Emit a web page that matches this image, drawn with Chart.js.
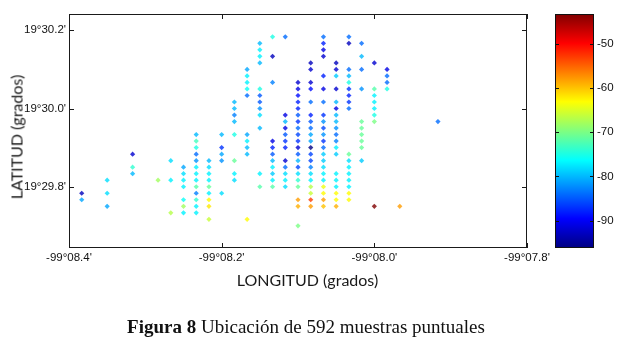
<!DOCTYPE html>
<html>
<head>
<meta charset="utf-8">
<script src="https://cdn.jsdelivr.net/npm/chart.js@4.4.1/dist/chart.umd.min.js"></script>
<style>
  body { margin: 0; background: #fff; }
  #fig { position: relative; width: 618px; height: 337px; overflow: hidden; }
  #fig canvas { position: absolute; top: 0; }
  #mapChart { left: 0; }
  #barChart { left: 540px; }
  .axis-title { position: absolute; font-family: Lato, 'Open Sans', sans-serif; font-size: 16px; font-weight: 400; line-height: 19px; color: #1a1a1a; white-space: nowrap; }
  #xTitle { left: 0; width: 615px; top: 270px; text-align: center; }
  #yTitle { left: 16px; top: 137px; transform: translate(-50%, -50%) rotate(-90deg); }
  #caption { position: absolute; left: 0; width: 612px; top: 317px; text-align: center; font-family: 'Liberation Serif', 'Times New Roman', serif; font-size: 19px; line-height: 19px; color: #111; }
</style>
</head>
<body>
<div id="fig">
  <canvas id="mapChart" width="618" height="337"></canvas>
  <canvas id="barChart" width="78" height="337"></canvas>
  <div class="axis-title" id="xTitle">LONGITUD (grados)</div>
  <div class="axis-title" id="yTitle">LATITUD (grados)</div>
  <div id="caption"><b>Figura 8</b> Ubicación de 592 muestras puntuales</div>
</div>
<script>
// ejes en segundos de arco: longitud respecto a -99°08'00", latitud respecto a 19°29'48"
const lonTicks = [-24, -12, 0, 12];
const latTicks = [0, 12, 24];
const latMin = -9.4;
const latMax = 26.5;

// escala de color (dBm)
const colorTicks = [-90, -80, -70, -60, -50];
const dbmMin = -96.2;
const dbmMax = -43.3;

// una entrada por columna de longitud
const sampleLon = [-23, -21, -19, -17, -16, -15, -14, -13, -12, -11, -10, -9, -8, -7, -6, -5, -4, -3, -2, -1, 0, 1, 2, 5];

const sampleLat = [
  [-1, -2],
  [1, -1, -3],
  [5, 3, 2],
  [1],
  [4, 1, -4],
  [3, 2, 1, 0, -2, -3, -4],
  [8, 7, 6, 5, 4, 3, 2, 1, 0, -1, -2, -3, -4],
  [4, 3, 2, 1, 0, -1, -2, -3, -5],
  [8, 6, 5, 4, -1],
  [13, 12, 11, 10, 8, 4, 2, 1],
  [18, 17, 16, 15, 14, 8, 7, 6, 5, -5],
  [22, 21, 20, 19, 15, 14, 13, 12, 11, 9, 2, 0],
  [23, 20, 16, 7, 6, 5, 4, 3, 2, 1, 0],
  [23, 11, 10, 9, 8, 7, 6, 4, 3, 2, 1, 0],
  [16, 15, 14, 13, 12, 11, 10, 9, 8, 7, 6, 5, 4, 3, 2, 1, 0, -2, -3, -6],
  [19, 18, 16, 15, 13, 11, 10, 9, 8, 7, 6, 5, 4, 3, 2, 1, 0, -1, -2, -3],
  [23, 22, 21, 20, 17, 15, 13, 11, 10, 9, 8, 7, 6, 5, 4, 3, 2, 1, 0, -1, -2, -3],
  [19, 18, 17, 15, 13, 12, 11, 10, 9, 8, 7, 6, 5, 2, 1, 0, -1, -2, -3],
  [23, 22, 18, 17, 16, 15, 14, 13, 12, 5, 4, 3, 2, 1, 0, -1, -2],
  [22, 20, 18, 15, 10, 9, 8, 7, 6, 4],
  [19, 15, 14, 13, 12, 11, 10, -3],
  [18, 17, 16, 15],
  [-3],
  [10]
];

const sampleDbm = [
  [-93, -81],
  [-78, -78, -81],
  [-92, -74, -80],
  [-68],
  [-78, -77, -67],
  [-81, -78, -77, -77, -76, -68, -77],
  [-80, -73, -75, -84, -82, -77, -77, -77, -72, -83, -74, -77, -77],
  [-80, -78, -77, -77, -71, -77, -63, -62, -66],
  [-80, -87, -81, -82, -78],
  [-80, -80, -83, -80, -75, -71, -77, -78],
  [-81, -77, -77, -76, -84, -81, -77, -80, -80, -63],
  [-80, -77, -77, -80, -75, -85, -85, -82, -78, -80, -77, -72],
  [-75, -93, -83, -91, -88, -85, -80, -77, -79, -77, -72],
  [-84, -91, -80, -91, -85, -87, -88, -92, -84, -78, -77, -78],
  [-92, -91, -89, -88, -88, -85, -87, -84, -86, -87, -92, -85, -80, -86, -78, -74, -71, -58, -59, -70],
  [-93, -92, -92, -89, -84, -88, -85, -84, -81, -81, -96, -86, -86, -83, -78, -77, -67, -66, -53, -58],
  [-84, -88, -91, -92, -88, -91, -84, -87, -82, -86, -82, -87, -84, -79, -79, -78, -77, -77, -64, -63, -58, -60],
  [-93, -92, -79, -92, -80, -91, -80, -80, -82, -84, -83, -77, -79, -77, -77, -77, -63, -63, -59],
  [-84, -93, -84, -80, -75, -87, -88, -87, -84, -71, -78, -77, -77, -77, -77, -63, -63],
  [-84, -80, -84, -82, -71, -71, -71, -71, -71, -79],
  [-92, -72, -77, -77, -77, -75, -70, -43.3],
  [-91, -84, -84, -75],
  [-58],
  [-84]
];

const tickFont = { family: "Arial, 'Liberation Sans', sans-serif", size: 11.5 };

// mapa de color tipo "jet" de MATLAB
function jet(t, alpha = 1) {
  const c = v => Math.round(255 * Math.min(1, Math.max(0, v)));
  return `rgba(${c(1.5 - Math.abs(4 * t - 3))}, ${c(1.5 - Math.abs(4 * t - 2))}, ${c(1.5 - Math.abs(4 * t - 1))}, ${alpha})`;
}

function dbmColor(v) {
  return jet((v - dbmMin) / (dbmMax - dbmMin), 0.8);
}

function lonLabel(v) {
  const m = 8 - v / 60;
  return "-99°" + m.toFixed(1).padStart(4, '0') + "'";
}

function latLabel(v) {
  return "19°" + (29.8 + v / 60).toFixed(1) + "'";
}

const points = [];
sampleLon.forEach((lon, i) => {
  sampleLat[i].forEach((lat, j) => {
    points.push({ x: lon, y: lat, dbm: sampleDbm[i][j] });
  });
});

// marco del area y marcas hacia adentro
const boxFrame = {
  id: 'boxFrame',
  afterDraw(chart) {
    const { ctx, chartArea: a, scales } = chart;
    ctx.save();
    ctx.strokeStyle = '#1a1a1a';
    ctx.lineWidth = 1;
    ctx.strokeRect(a.left + 0.5, a.top + 0.5, a.right - a.left - 1, a.bottom - a.top - 1);
    ctx.beginPath();
    scales.x.ticks.forEach(t => {
      const x = Math.round(scales.x.getPixelForValue(t.value)) + 0.5;
      ctx.moveTo(x, a.bottom); ctx.lineTo(x, a.bottom - 5);
      ctx.moveTo(x, a.top); ctx.lineTo(x, a.top + 5);
    });
    scales.y.ticks.forEach(t => {
      const y = Math.round(scales.y.getPixelForValue(t.value)) + 0.5;
      ctx.moveTo(a.left, y); ctx.lineTo(a.left + 5, y);
      ctx.moveTo(a.right, y); ctx.lineTo(a.right - 5, y);
    });
    ctx.stroke();
    ctx.restore();
  }
};

new Chart(document.getElementById('mapChart'), {
  type: 'scatter',
  data: {
    datasets: [{
      data: points,
      pointBackgroundColor: ctx => dbmColor(ctx.raw.dbm),
      pointBorderWidth: 0,
      pointStyle: 'rectRot',
      pointRadius: 2.6,
      pointHoverRadius: 2.6
    }]
  },
  options: {
    responsive: false,
    animation: false,
    events: [],
    layout: { padding: { left: 0, top: 14, right: 91, bottom: 46 } },
    plugins: { legend: { display: false }, tooltip: { enabled: false } },
    scales: {
      x: {
        type: 'linear',
        min: lonTicks[0],
        max: lonTicks[lonTicks.length - 1],
        afterBuildTicks: s => { s.ticks = lonTicks.map(v => ({ value: v })); },
        afterFit: s => { s.height = 43; },
        grid: { display: false, drawTicks: false },
        border: { display: false },
        ticks: { callback: lonLabel, color: '#111', font: tickFont, padding: 3, maxRotation: 0, autoSkip: false }
      },
      y: {
        type: 'linear',
        min: latMin,
        max: latMax,
        afterBuildTicks: s => { s.ticks = latTicks.map(v => ({ value: v })); },
        afterFit: s => { s.width = 69; },
        grid: { display: false, drawTicks: false },
        border: { display: false },
        ticks: { callback: latLabel, color: '#111', font: tickFont, padding: 3 }
      }
    }
  },
  plugins: [boxFrame]
});

// barra de color
function jetGradient(chart) {
  const a = chart.chartArea;
  if (!a) return null;
  const g = chart.ctx.createLinearGradient(0, a.bottom, 0, a.top);
  [0, 0.125, 0.375, 0.625, 0.875, 1].forEach(t => g.addColorStop(t, jet(t)));
  return g;
}

const barFrame = {
  id: 'barFrame',
  afterDraw(chart) {
    const { ctx, chartArea: a, scales } = chart;
    ctx.save();
    ctx.strokeStyle = '#111';
    ctx.lineWidth = 1;
    ctx.strokeRect(a.left + 0.5, a.top + 0.5, a.right - a.left - 1, a.bottom - a.top - 1);
    ctx.beginPath();
    scales.y.ticks.forEach(t => {
      const y = Math.round(scales.y.getPixelForValue(t.value)) + 0.5;
      ctx.moveTo(a.right, y); ctx.lineTo(a.right - 4, y);
      ctx.moveTo(a.left, y); ctx.lineTo(a.left + 4, y);
    });
    ctx.stroke();
    ctx.restore();
  }
};

new Chart(document.getElementById('barChart'), {
  type: 'bar',
  data: {
    labels: [''],
    datasets: [{
      data: [[dbmMin, dbmMax]],
      backgroundColor: ctx => jetGradient(ctx.chart),
      borderWidth: 0,
      barPercentage: 1,
      categoryPercentage: 1
    }]
  },
  options: {
    responsive: false,
    animation: false,
    events: [],
    layout: { padding: { left: 15, top: 14, right: 0, bottom: 89 } },
    plugins: { legend: { display: false }, tooltip: { enabled: false } },
    scales: {
      x: { display: false },
      y: {
        position: 'right',
        min: dbmMin,
        max: dbmMax,
        afterBuildTicks: s => { s.ticks = colorTicks.map(v => ({ value: v })); },
        afterFit: s => { s.width = 24; },
        grid: { display: false, drawTicks: false },
        border: { display: false },
        ticks: { color: '#111', font: tickFont, padding: 3 }
      }
    }
  },
  plugins: [barFrame]
});
</script>
</body>
</html>
